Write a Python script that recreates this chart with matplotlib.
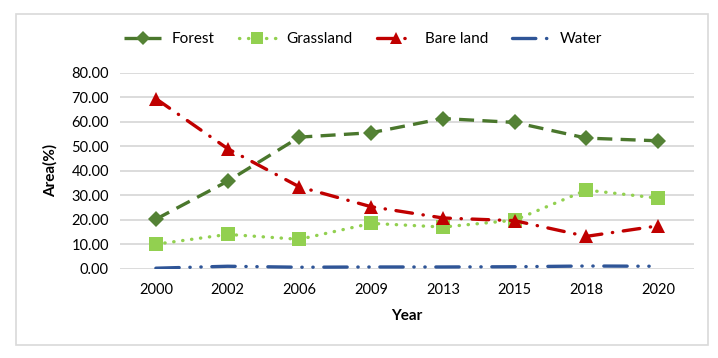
import matplotlib
matplotlib.use("Agg")
import matplotlib.pyplot as plt
from matplotlib.patches import Rectangle

years = ["2000", "2002", "2006", "2009", "2013", "2015", "2018", "2020"]
forest = [20.2, 35.7, 53.7, 55.5, 61.3, 59.7, 53.3, 52.2]
grassland = [10.0, 14.0, 12.0, 18.5, 17.0, 19.8, 32.1, 28.8]
bare_land = [69.4, 49.0, 33.4, 25.3, 20.7, 19.6, 13.2, 17.5]
water = [0.2, 1.0, 0.6, 0.7, 0.7, 0.8, 1.1, 1.0]
yticks = [0, 10, 20, 30, 40, 50, 60, 70, 80]

plt.rcParams['font.family'] = ['Lato', 'DejaVu Sans']

W, H = 718, 358
fig = plt.figure(figsize=(W/100, H/100), dpi=100)
fig.patches.append(Rectangle((16/W, 1-345/H), (708-16)/W, (345-14)/H,
                             transform=fig.transFigure, fill=False,
                             edgecolor='#D9D9D9', linewidth=1.2))

left, right, top, bottom = 120, 694, 72.7, 268.7
ax = fig.add_axes([left/W, 1-bottom/H, (right-left)/W, (bottom-top)/H])
x = list(range(len(years)))

ax.plot(x, water, color='#2F5597', lw=2.4, dashes=(7, 3.2, 0.1, 3.2, 0.1, 3.2),
        dash_capstyle='round', label='Water', zorder=3)
ax.plot(x, grassland, color='#92D050', lw=2.4, dashes=(0.1, 2.6),
        dash_capstyle='round', marker='s', ms=10, markeredgewidth=0,
        label='Grassland', zorder=4)
ax.plot(x, bare_land, color='#C00000', lw=2.4, dashes=(5, 3.2, 0.1, 3.2),
        dash_capstyle='round', marker='^', ms=10, markeredgewidth=0,
        label='Bare land', zorder=5)
ax.plot(x, forest, color='#4A772C', lw=2.4, dashes=(4.5, 2.5),
        marker='D', ms=8, markerfacecolor='#548235', markeredgewidth=0,
        label='Forest', zorder=6)

ax.set_xlim(-0.5, len(years) - 0.5)
ax.set_ylim(0, 80)
ax.set_yticks(yticks)
ax.set_yticklabels([f"{v:.2f}" for v in yticks], fontsize=10.5)
ax.set_xticks(x)
ax.set_xticklabels(years, fontsize=10.5)
ax.tick_params(length=0, pad=8)
ax.tick_params(axis='x', pad=10)
ax.grid(axis='y', color='#D9D9D9', lw=1.3, zorder=0)
ax.set_axisbelow(True)
for s in ax.spines.values():
    s.set_visible(False)

ax.set_ylabel("Area(%)", fontsize=11, fontweight='bold', labelpad=10)
ax.set_xlabel("Year", fontsize=11, fontweight='bold', labelpad=9)

handles, labels = ax.get_legend_handles_labels()
order = [3, 1, 2, 0]
fig.legend([handles[i] for i in order], [labels[i] for i in order],
           loc='center', bbox_to_anchor=(0.506, 1-39/H), ncol=4, frameon=False,
           fontsize=11, handlelength=2.4, columnspacing=1.6, handletextpad=0.7,
           markerscale=0.85)

fig.savefig("out.png", dpi=100)
